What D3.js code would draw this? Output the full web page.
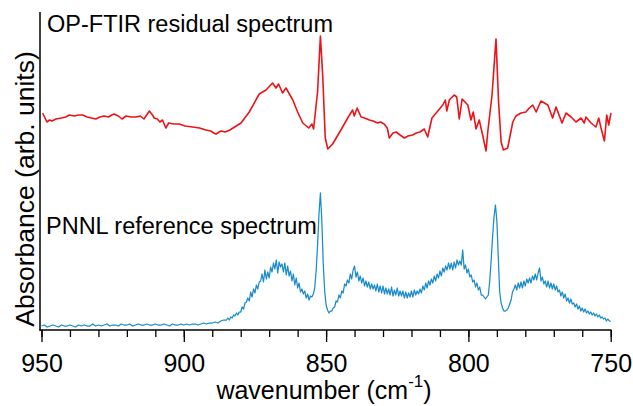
<!DOCTYPE html>
<html><head><meta charset="utf-8">
<script src="https://cdn.jsdelivr.net/npm/d3@7"></script>
<style>body{margin:0;background:#fff;} svg{display:block;} text{font-family:"Liberation Sans",Arial,sans-serif;fill:#000;}</style>
</head><body>
<svg id="c" width="633" height="406"></svg>
<script>
// ---- data ----
const xTicksMajor = [950, 900, 850, 800, 750];
const xTickLabels = ["950", "900", "850", "800", "750"];
const xTicksMinor = d3.range(950, 749, -10);

// OP-FTIR residual spectrum: wavenumber (cm-1) and absorbance (arb.)
const residualWn = [949.6,948.1,947.2,946.3,944.9,943.0,941.5,940.2,938.5,937.0,935.5,934.0,932.5,930.9,929.5,928.0,926.5,925.3,924.5,923.0,921.7,920.3,918.5,916.8,915.3,914.0,912.1,911.0,910.4,909.3,908.4,907.5,906.3,905.3,903.5,901.6,899.5,896.9,894.5,892.2,890.5,889.5,888.7,887.6,886.9,885.5,883.8,879.9,877.0,873.5,871.1,868.8,867.6,866.7,865.3,864.1,861.7,860.0,858.2,856.1,855.0,854.4,853.0,852.0,851.2,850.3,849.4,847.7,844.8,842.4,840.7,840.1,839.1,837.7,836.5,834.8,833.5,831.9,830.8,829.6,828.5,827.8,826.5,825.4,824.0,822.5,821.2,819.6,818.3,817.0,815.5,814.3,812.8,809.0,808.1,807.6,806.7,805.0,804.1,803.2,802.2,800.2,799.1,798.3,797.3,796.2,795.0,793.8,793.2,791.7,790.3,789.4,788.5,787.7,786.2,784.4,783.3,781.5,779.8,778.6,777.4,776.2,774.5,772.1,770.4,769.2,767.1,765.7,763.9,762.2,760.4,759.3,758.7,756.9,755.2,754.2,753.4,752.2,751.4,750.7,749.9];
const residualAbs = [216,207,209,208,210,211,212,214,213,214,214,212,211,210,212,213,212,214,215,213,210,213,212,212,213,210,218,214,211,210,207,209,201,206,205,205,203,202,201,199,198,196,195,197,198,197,199,206,217,235,239,246,241,245,236,241,229,217,206,201,205,200,237,293,254,191,180,185,199,211,219,213,221,212,211,209,208,206,207,205,201,191,196,197,194,191,193,194,196,197,200,192,211,224,229,218,229,234,232,210,230,224,209,217,200,209,194,178,197,234,290,227,187,179,181,207,213,216,217,221,224,217,228,224,211,222,206,216,212,207,211,206,212,206,202,211,201,188,214,204,216];

// PNNL reference spectrum: 950-886 cm-1 in 1 cm-1 steps, 885-750 cm-1 in 0.5 cm-1 steps
const referenceWn = d3.range(950, 885.5, -1).concat(d3.range(885, 749.75, -0.5));
const referenceAbs = [
 3,4,2,3,4,3,2,4,3,3,
 4,3,2,4,3,4,3,3,5,3,
 4,3,4,5,3,4,4,3,5,4,
 4,5,3,4,5,4,4,5,4,4,
 5,4,4,5,4,3,5,4,4,5,
 4,5,4,5,5,4,5,6,5,6,
 6,7,6,8,9,
 9,11,9,12,11,14,13,16,14,17,
 17,22,20,26,27,31,28,37,32,40,
 36,44,40,47,48,55,47,59,50,57,
 51,62,57,66,60,69,56,67,62,65,
 57,66,54,63,53,58,48,55,44,51,
 41,46,37,40,35,38,31,35,29,33,
 32,35,41,58,84,115,136,108,65,38,
 24,19,16,18,18,21,22,28,27,34,
 31,38,36,45,43,49,46,55,50,59,
 63,52,57,48,53,46,51,43,48,42,
 47,40,45,40,44,38,45,37,43,36,
 43,35,41,35,40,34,42,33,39,34,
 41,33,38,33,38,31,37,31,36,32,
 38,32,39,34,38,35,40,36,43,39,
 46,41,48,44,50,46,53,48,55,51,
 58,53,61,57,63,59,66,60,66,59,
 67,61,69,64,68,64,79,60,64,56,
 60,52,54,47,49,42,46,39,42,34,
 34,32,30,32,34,48,69,92,112,124,
 108,72,37,26,21,18,18,19,21,25,
 29,37,40,44,39,46,41,47,41,48,
 43,50,46,51,46,53,49,55,49,56,
 61,48,52,45,48,42,48,41,46,40,
 45,39,43,37,39,33,37,31,35,28,
 31,26,30,25,26,22,25,20,23,18,
 21,17,20,16,18,15,17,14,16,13,
 15,12,14,11,12,10,11,8,10,8,
 8];

const labels = ["OP-FTIR residual spectrum", "PNNL reference spectrum"];
const colors = ["#ee1318", "#1a8bcb"];

// ---- drawing ----
const svg = d3.select("#c");
const x = d3.scaleLinear().domain([950, 750]).range([41.5, 610.7]);
const y = d3.scaleLinear().domain([0, 318]).range([329, 11]);
const axisY = 330;

const line = d3.line().x(d => x(d[0])).y(d => y(d[1]));

svg.append("path")
  .datum(referenceWn.map((w, i) => [w, referenceAbs[i]]))
  .attr("d", line).attr("fill", "none")
  .attr("stroke", colors[1]).attr("stroke-width", 1.25).attr("stroke-linejoin", "round");

svg.append("path")
  .datum(residualWn.map((w, i) => [w, residualAbs[i]]))
  .attr("d", line).attr("fill", "none")
  .attr("stroke", colors[0]).attr("stroke-width", 1.6).attr("stroke-linejoin", "round");

// axes
const gx = svg.append("g").attr("transform", `translate(0,${axisY})`);
gx.append("g").call(d3.axisBottom(x).tickValues(xTicksMinor).tickSize(7).tickFormat(""))
  .call(g => g.select(".domain").remove())
  .selectAll("line").attr("stroke", "#000").attr("stroke-width", 1.3);
gx.append("g").call(d3.axisBottom(x).tickValues(xTicksMajor).tickSize(12)
    .tickFormat((d, i) => xTickLabels[i]).tickPadding(12))
  .call(g => g.select(".domain").remove())
  .call(g => g.selectAll("line").attr("stroke", "#000").attr("stroke-width", 1.3))
  .call(g => g.selectAll("text").attr("font-size", 25).attr("font-family", "Liberation Sans, Arial, sans-serif").attr("fill", "#000"));
gx.append("line").attr("x1", 39.5).attr("x2", 611.4).attr("y1", 0).attr("y2", 0)
  .attr("stroke", "#000").attr("stroke-width", 1.5);
svg.append("line").attr("x1", 40).attr("x2", 40).attr("y1", 12).attr("y2", axisY + 0.75)
  .attr("stroke", "#000").attr("stroke-width", 1.5);

// labels
svg.append("text").attr("x", 47).attr("y", 32).attr("font-size", 23.5).text(labels[0]);
svg.append("text").attr("x", 46).attr("y", 234).attr("font-size", 23.5).text(labels[1]);

const xl = svg.append("text").attr("x", 324).attr("y", 399).attr("text-anchor", "middle").attr("font-size", 25);
xl.append("tspan").text("wavenumber (cm");
xl.append("tspan").attr("dy", -12).attr("font-size", 17).text("-1");
xl.append("tspan").attr("dy", 12).text(")");

svg.append("text").attr("transform", "translate(34,189) rotate(-90)")
  .attr("text-anchor", "middle").attr("font-size", 26.5).text("Absorbance (arb. units)");
</script>
</body></html>
